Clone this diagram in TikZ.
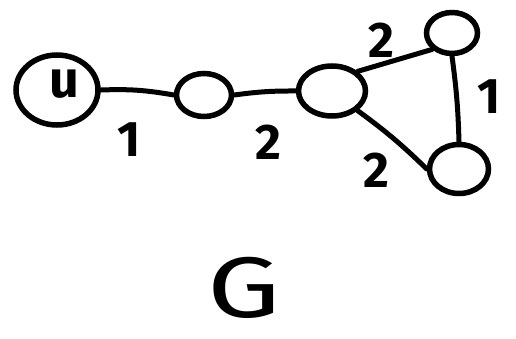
\documentclass[tikz,border=0pt]{standalone}
\usepackage{fontspec}
\setmainfont{Fira Sans}
\usetikzlibrary{shapes.geometric}
\begin{document}
\begin{tikzpicture}[x=1pt,y=-1pt,
  vert/.style={ellipse,draw,line width=5.5pt,inner sep=0pt},
  edge/.style={line width=5pt,line cap=round},
  wlabel/.style={font=\fontsize{50}{50}\selectfont\bfseries},
  every node/.append style={text=black}]
\useasboundingbox (0,0) rectangle (516,339);
% vertices
\node[vert,minimum width=82pt,minimum height=70pt] (u) at (57,90) {};
\node[font=\fontsize{52}{52}\selectfont\bfseries] (ul) at (64,84) {u};
\node[vert,minimum width=55pt,minimum height=43pt] (a) at (204,95) {};
\node[vert,minimum width=67pt,minimum height=50pt] (b) at (332,91) {};
\node[vert,minimum width=51pt,minimum height=41pt] (c) at (452,33) {};
\node[vert,minimum width=59pt,minimum height=49pt] (d) at (459,169) {};
% edges
\draw[edge] (u.east) to[bend left=6] (a.west);
\draw[edge] (a.east) to[bend left=4] (b.west);
\draw[edge] (b.north east) -- (c.south west);
\draw[edge] (b.south east) to[bend left=4] (d.west);
\draw[edge] (c.south) to[bend left=3] (d.north);
% weights
\node[wlabel] (w1) at (129,140) {1};
\node[wlabel] (w2) at (268,142) {2};
\node[wlabel] (w3) at (381,40) {2};
\node[wlabel] (w4) at (489,97) {1};
\node[wlabel] (w5) at (376,170) {2};
% graph name
\node[font=\fontsize{86}{86}\selectfont,xscale=1.35,inner sep=0pt] (g) at (244,288) {G};
\end{tikzpicture}
\end{document}
